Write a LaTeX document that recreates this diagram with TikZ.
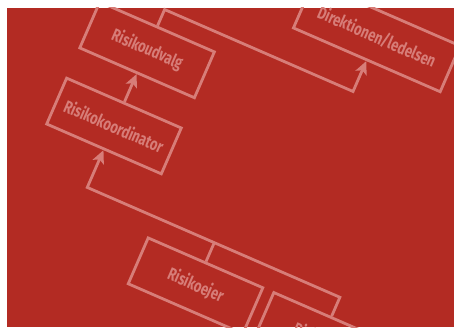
\documentclass[tikz,border=0pt]{standalone}
\usepackage{fontspec}
\newfontfamily\boxfont[FakeStretch=0.74]{Fira Sans}
\usetikzlibrary{arrows.meta}
\definecolor{bgred}{RGB}{179,43,35}
\definecolor{linepink}{RGB}{215,125,120}
\tikzset{
  orgbox/.style={draw=linepink, line width=2.8pt, minimum width=125pt, minimum height=50pt,
    rotate=-23.5, inner sep=0pt, text=linepink, font=\boxfont\bfseries\fontsize{17.5}{20}\selectfont},
  wide/.style={minimum width=160pt},
  conn/.style={draw=linepink, line width=2.8pt},
  arr/.style={conn, -{Stealth[length=13pt,width=12pt,inset=3pt]}}
}
\begin{document}
\begin{tikzpicture}[x=1pt,y=1pt]
\fill[white] (0,0) rectangle (454,327);
\useasboundingbox (0,0) rectangle (454,327);
\fill[bgred] (7,0) rectangle (454,319);
\clip (7,0) rectangle (454,319);
\begin{scope}[shift={(46.7pt,203pt)}, rotate=-23.5]
  \node[orgbox] (koord) at (62.5,25) {Risikokoordinator};
  \node[orgbox] (udvalg) at (62.5,108) {Risikoudvalg};
  \node[orgbox, wide] (dir) at (268,211.5) {Direktionen/ledelsen};
  \node[orgbox] (ejer) at (201,-89) {Risikoejer};
  \node[orgbox] (ejer2) at (338,-89) {Risikoejer};
  \coordinate (t1) at (62.5,152);
  \coordinate (t2) at (268,152);
  \coordinate (b1) at (62.5,-42);
  \coordinate (b2) at (338,-42);
  \coordinate (b3) at (201,-42);
  \draw[arr] (koord.north) -- (udvalg.south);
  \draw[arr] (udvalg.north) -- (t1) -- (t2) -- (dir.south);
  \draw[arr] (ejer2.north) -- (b2) -- (b1) -- (koord.south);
  \draw[conn] (ejer.north) -- (b3);
\end{scope}
\end{tikzpicture}
\end{document}
